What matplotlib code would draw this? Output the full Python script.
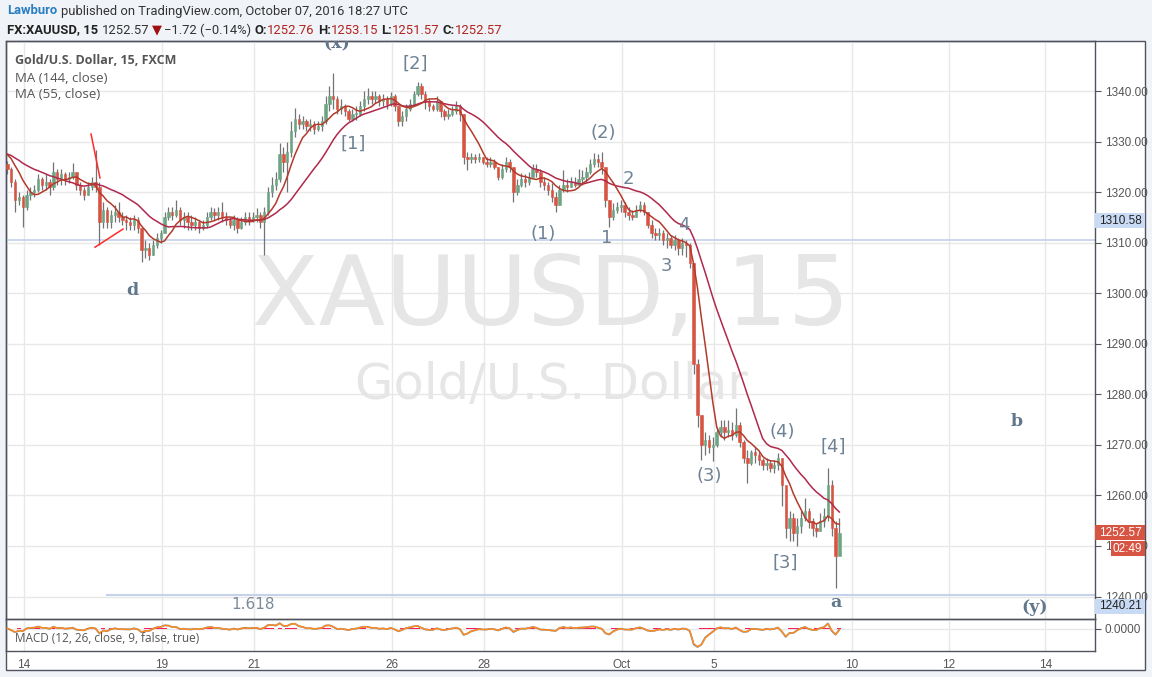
import matplotlib
matplotlib.use("Agg")
import matplotlib.pyplot as plt
import matplotlib.transforms as mtrans
from matplotlib.patches import Rectangle
import numpy as np
import pandas as pd

W, H, DPI = 1152, 677, 100

# ---------------- data (2-hour bars) ----------------
first_open = 1325.5
bar_close = [
    1324.5, 1322.0, 1318.5, 1319.0, 1317.0, 1319.5, 1320.0, 1320.5, 1322.5, 1321.5,
    1322.0, 1321.0, 1324.0, 1322.5, 1323.5, 1322.5, 1323.0, 1324.0, 1321.5, 1320.5,
    1319.5, 1321.0, 1322.0, 1321.0, 1314.0, 1316.5, 1314.0, 1315.5, 1316.0, 1315.0,
    1314.5, 1314.0, 1313.5, 1314.5, 1313.0, 1308.5, 1309.0, 1307.5, 1309.5, 1311.0,
    1312.0, 1315.0, 1316.0, 1315.5, 1316.5, 1314.5, 1315.0, 1314.0, 1313.5, 1314.0,
    1313.0, 1313.5, 1315.0, 1316.0, 1315.5, 1316.0, 1315.0, 1314.5, 1313.5, 1314.5,
    1313.0, 1314.0, 1315.0, 1314.5, 1315.0, 1315.5, 1314.0, 1316.0, 1320.0, 1321.5,
    1322.5, 1327.5, 1326.0, 1328.0, 1332.0, 1334.5, 1333.5, 1334.0, 1333.0, 1333.5,
    1332.5, 1333.0, 1334.0, 1337.5, 1339.0, 1338.5, 1336.5, 1337.0, 1336.0, 1334.5,
    1335.5, 1335.5, 1337.0, 1338.5, 1339.0, 1338.5, 1339.0, 1338.0, 1338.5, 1337.5,
    1339.0, 1337.0, 1334.0, 1335.0, 1336.5, 1337.5, 1339.5, 1341.0, 1339.5, 1338.0,
    1337.0, 1336.5, 1338.0, 1336.0, 1335.0, 1335.5, 1336.0, 1337.0, 1335.5, 1327.0,
    1326.5, 1327.0, 1326.5, 1327.0, 1326.0, 1325.5, 1326.0, 1325.0, 1323.0, 1324.5,
    1326.0, 1325.0, 1320.0, 1321.5, 1322.5, 1322.0, 1323.0, 1324.5, 1324.0, 1322.0,
    1321.5, 1320.5, 1319.0, 1317.5, 1320.5, 1321.5, 1321.0, 1322.0, 1321.5, 1322.5,
    1323.0, 1324.0, 1325.5, 1326.5, 1326.0, 1325.0, 1318.5, 1315.0, 1316.5, 1317.0,
    1317.5, 1316.0, 1315.5, 1315.0, 1316.5, 1317.5, 1316.0, 1313.5, 1312.0, 1311.5,
    1312.0, 1310.5, 1311.0, 1309.5, 1310.5, 1309.0, 1310.0, 1309.5, 1306.0, 1286.0,
    1276.0, 1270.0, 1271.0, 1269.5, 1270.0, 1272.5, 1273.5, 1272.5, 1273.0, 1272.0,
    1274.0, 1270.5, 1267.5, 1266.5, 1268.5, 1268.0, 1267.0, 1266.0, 1266.5, 1265.5,
    1266.0, 1267.5, 1262.0, 1253.5, 1255.5, 1252.5, 1254.0, 1255.5, 1257.0, 1255.0,
    1253.5, 1253.0, 1255.0, 1256.0, 1262.0, 1253.5, 1248.0, 1252.57,
]
bar_high = [
    1326.2, 1325.0, 1322.5, 1320.0, 1319.5, 1320.5, 1321.0, 1321.5, 1323.5, 1323.0,
    1323.5, 1322.5, 1326.0, 1324.5, 1324.5, 1324.0, 1324.0, 1325.8, 1324.0, 1322.0,
    1321.0, 1322.0, 1323.0, 1328.3, 1322.0, 1318.0, 1317.0, 1316.5, 1317.5, 1318.0,
    1316.0, 1315.5, 1315.0, 1315.5, 1315.0, 1313.0, 1310.5, 1310.0, 1310.5, 1312.0,
    1312.5, 1316.0, 1317.0, 1317.0, 1318.4, 1317.0, 1316.0, 1316.0, 1315.5, 1315.0,
    1314.5, 1314.5, 1316.0, 1317.0, 1316.8, 1317.0, 1318.0, 1316.0, 1315.0, 1315.5,
    1315.0, 1315.0, 1316.0, 1316.0, 1316.0, 1316.9, 1316.0, 1317.0, 1321.0, 1323.0,
    1324.0, 1329.7, 1329.0, 1330.0, 1334.0, 1336.6, 1335.5, 1335.0, 1334.5, 1334.5,
    1334.0, 1334.0, 1335.0, 1339.0, 1341.0, 1343.5, 1339.0, 1338.5, 1337.5, 1336.5,
    1336.5, 1337.0, 1338.0, 1340.0, 1340.6, 1340.0, 1340.0, 1339.5, 1339.5, 1339.0,
    1339.8, 1339.5, 1337.0, 1336.0, 1337.5, 1338.5, 1340.0, 1341.8, 1341.5, 1340.0,
    1338.5, 1337.5, 1339.0, 1338.0, 1336.5, 1336.5, 1337.0, 1338.0, 1337.5, 1335.5,
    1328.0, 1327.8, 1327.5, 1327.8, 1327.0, 1327.0, 1327.0, 1326.5, 1325.0, 1325.5,
    1327.0, 1326.5, 1325.0, 1322.5, 1323.7, 1323.5, 1324.0, 1325.5, 1325.5, 1324.5,
    1323.0, 1322.0, 1321.8, 1320.0, 1321.5, 1324.4, 1322.5, 1323.0, 1323.0, 1324.5,
    1324.4, 1325.0, 1326.5, 1327.7, 1327.5, 1328.0, 1325.0, 1318.5, 1317.8, 1318.0,
    1318.5, 1318.0, 1317.0, 1316.5, 1317.5, 1318.3, 1318.0, 1316.0, 1314.5, 1313.0,
    1313.0, 1312.5, 1312.0, 1311.5, 1311.5, 1311.0, 1311.0, 1310.5, 1310.0, 1306.0,
    1287.0, 1276.0, 1272.5, 1272.0, 1271.5, 1273.5, 1275.0, 1275.0, 1275.0, 1274.5,
    1277.3, 1274.5, 1271.0, 1269.0, 1269.0, 1269.5, 1268.5, 1267.5, 1267.5, 1267.0,
    1267.0, 1268.4, 1267.5, 1258.5, 1257.0, 1256.5, 1255.5, 1257.0, 1259.5, 1257.5,
    1255.5, 1254.5, 1256.5, 1257.5, 1265.4, 1263.0, 1255.0, 1255.5,
]
bar_low = [
    1323.5, 1321.0, 1316.0, 1317.5, 1313.2, 1316.5, 1318.5, 1319.0, 1320.0, 1320.5,
    1320.5, 1319.5, 1320.5, 1321.5, 1321.5, 1321.5, 1321.8, 1322.5, 1320.5, 1319.5,
    1318.4, 1319.5, 1320.5, 1320.0, 1309.5, 1313.0, 1313.0, 1313.0, 1314.0, 1314.0,
    1313.5, 1312.5, 1312.5, 1312.5, 1312.0, 1306.2, 1307.0, 1306.6, 1307.5, 1309.0,
    1310.0, 1312.0, 1314.5, 1314.5, 1315.0, 1313.5, 1313.0, 1312.5, 1312.5, 1312.5,
    1312.0, 1312.5, 1313.0, 1314.5, 1314.5, 1314.5, 1314.0, 1313.5, 1313.0, 1312.5,
    1312.0, 1312.8, 1313.5, 1313.5, 1314.0, 1314.0, 1313.0, 1307.6, 1315.5, 1319.0,
    1320.5, 1322.0, 1324.0, 1320.0, 1327.0, 1331.0, 1332.5, 1332.5, 1332.0, 1332.0,
    1331.5, 1332.0, 1332.0, 1333.5, 1336.0, 1336.5, 1335.5, 1335.5, 1335.0, 1334.0,
    1334.0, 1334.3, 1335.0, 1336.0, 1337.5, 1337.5, 1337.6, 1337.0, 1337.0, 1336.5,
    1337.0, 1336.0, 1333.0, 1333.0, 1334.0, 1336.0, 1337.0, 1339.0, 1338.5, 1336.5,
    1336.0, 1336.0, 1336.0, 1334.8, 1334.3, 1334.5, 1335.0, 1335.5, 1334.0, 1325.5,
    1324.4, 1325.8, 1325.8, 1326.0, 1325.5, 1325.0, 1325.0, 1324.5, 1322.4, 1322.5,
    1324.0, 1324.0, 1318.0, 1319.5, 1321.0, 1321.0, 1321.5, 1323.0, 1323.0, 1321.0,
    1320.4, 1319.5, 1318.0, 1316.1, 1317.5, 1320.0, 1320.0, 1321.0, 1321.0, 1321.5,
    1321.5, 1322.0, 1323.5, 1325.0, 1325.0, 1323.5, 1317.0, 1313.2, 1314.5, 1315.8,
    1316.0, 1315.0, 1314.5, 1314.5, 1315.0, 1316.0, 1315.5, 1313.0, 1311.0, 1310.5,
    1310.5, 1309.5, 1309.0, 1309.0, 1308.5, 1307.5, 1307.5, 1307.2, 1305.0, 1284.0,
    1273.5, 1267.0, 1268.0, 1268.3, 1266.8, 1269.5, 1271.5, 1271.0, 1271.5, 1271.0,
    1271.5, 1269.5, 1266.4, 1262.5, 1266.0, 1266.5, 1266.0, 1265.0, 1265.0, 1264.6,
    1264.5, 1265.0, 1258.0, 1251.5, 1251.0, 1251.0, 1250.0, 1252.5, 1255.0, 1253.5,
    1252.0, 1251.8, 1253.0, 1253.8, 1255.0, 1252.0, 1241.7, 1249.9,
]
first_bar_day = -0.36          # session-day units, 0 = Sep 14
bars_per_day = 12              # 2-hour bars
ma_slow_len = 19               # MA(144) of 15-min bars in 2-hour bars
ma_fast_len = 7                # MA(55) of 15-min bars in 2-hour bars
ma_slow_start = 1327.7         # MA values read at the left edge of the chart
ma_fast_start = 1327.9
macd_spans = (12 / 8, 26 / 8, 9 / 8)

date_tick_days = [0, 3, 5, 8, 10, 13, 15, 18, 20.1, 22.2]
date_tick_labels = ["14", "19", "21", "26", "28", "Oct", "5", "10", "12", "14"]
price_ticks = [1240, 1250, 1260, 1270, 1280, 1290, 1300, 1310, 1320, 1330, 1340]

level_line = 1310.58
fib_level = 1240.21
fib_start_day = 1.78
last_price = 1252.57

# annotation drawings (day, price)
trend_lines = [((1.457, 1331.5), (1.652, 1322.8)),
               ((1.543, 1309.1), (2.152, 1312.7))]
wave_labels = [
    ("(x)", 6.80, 1349.3, True), ("[2]", 8.50, 1345.5, False), ("[1]", 7.15, 1329.5, False),
    ("(2)", 12.59, 1331.7, False), ("2", 13.13, 1322.6, False), ("(1)", 11.28, 1311.7, False),
    ("1", 12.67, 1310.9, False), ("4", 14.35, 1313.5, False), ("3", 13.96, 1305.4, False),
    ("(4)", 16.48, 1272.5, False), ("[4]", 17.59, 1269.6, False), ("(3)", 14.89, 1263.8, False),
    ("[3]", 16.54, 1246.6, False), ("a", 17.65, 1238.9, True), ("b", 21.57, 1274.7, True),
    ("(y)", 21.96, 1237.9, True), ("d", 2.35, 1300.6, True),
]

# ---------------- figure ----------------
BG = "#f0f3f7"
FRAME = "#50535e"
GRID = "#e8e8e8"
AXTXT = "#555555"
fig = plt.figure(figsize=(W / DPI, H / DPI), dpi=DPI, facecolor=BG)

def fx(px):
    return px / W

def fy(py):
    return 1 - py / H

# white widget area
fig.add_artist(Rectangle((fx(6), fy(670)), (1145 - 6) / W, (670 - 41) / H,
                         transform=fig.transFigure, facecolor="white",
                         edgecolor=FRAME, lw=1.0, zorder=0))

ax = fig.add_axes([fx(6), fy(619), 1089 / W, 578 / H])
ax2 = fig.add_axes([fx(6), fy(651), 1089 / W, 32 / H], sharex=ax)

xmin, xmax = -0.391, 23.28
ymin, ymax = 1235.55, 1349.9

n = len(bar_close)
days = first_bar_day + np.arange(n) / bars_per_day
c = np.array(bar_close)
o = np.concatenate([[first_open], c[:-1]])
hi = np.array(bar_high)
lo = np.array(bar_low)

for a in (ax, ax2):
    a.set_facecolor("none")
    a.set_axisbelow(True)
    for s in a.spines.values():
        s.set_color(FRAME)
        s.set_linewidth(1.0)
    a.grid(True, color=GRID, lw=1.0)
    a.set_xlim(xmin, xmax)

# watermark
ax.text(0.5005, 0.555, "XAUUSD, 15", transform=ax.transAxes, ha="center", va="center",
        fontsize=70, color="#e6e6e6", family="DejaVu Sans", zorder=1)
ax.text(0.5005, 0.405, "Gold/U.S. Dollar", transform=ax.transAxes, ha="center", va="center",
        fontsize=35.7, color="#e6e6e6", family="DejaVu Sans", zorder=1)

# horizontal levels
ax.axhline(level_line, color="#c5d2ea", lw=1.2, zorder=1.5)
ax.hlines(fib_level, fib_start_day, xmax, color="#c5d2ea", lw=1.5, zorder=1.5)

# candles
up = c >= o
ax.vlines(days, lo, hi, color="#737375", lw=0.9, zorder=2)
body_lo = np.minimum(o, c)
body_h = np.maximum(np.abs(c - o), 0.15)
bw = 0.62 / bars_per_day
ax.bar(days[up], body_h[up], bottom=body_lo[up], width=bw,
       color="#6ba583", edgecolor="#6ba583", lw=0.4, zorder=3)
ax.bar(days[~up], body_h[~up], bottom=body_lo[~up], width=bw,
       color="#d75442", edgecolor="#d75442", lw=0.4, zorder=3)

# moving averages (seeded with the values read at the chart's left edge)
cs = pd.Series(c)

def sma(win, seed):
    s = pd.Series(np.concatenate([np.full(win, seed), c]))
    return s.rolling(win).mean().to_numpy()[win:]

ax.plot(days, sma(ma_slow_len, ma_slow_start), color="#b0284c", lw=1.1, zorder=4)
ax.plot(days, sma(ma_fast_len, ma_fast_start), color="#b33a2a", lw=1.1, zorder=4)

# trend lines
for (x0, y0), (x1, y1) in trend_lines:
    ax.plot([x0, x1], [y0, y1], color="#ff2a2a", lw=1.1, zorder=5)

# wave labels
for txt, d, p, bold in wave_labels:
    if bold:
        ax.text(d, p, txt, ha="center", va="center", fontsize=12.5, fontweight="bold",
                color="#62778c", family="DejaVu Serif", zorder=6, clip_on=True)
    else:
        ax.text(d, p, txt, ha="center", va="center", fontsize=13,
                color="#6f8294", family="DejaVu Sans", zorder=6, clip_on=True)
ax.text(4.98, 1238.5, "1.618", ha="center", va="center", fontsize=11,
        color="#7b8a99", family="DejaVu Sans", zorder=6)

# axes ticks
ax.set_ylim(ymin, ymax)
ax.set_yticks(price_ticks)
ax.yaxis.tick_right()
ax.yaxis.set_major_formatter(matplotlib.ticker.FormatStrFormatter("%.2f"))
ax.tick_params(axis="y", length=4, color=AXTXT, labelcolor=AXTXT, labelsize=8.5, pad=3,
               labelfontfamily="Liberation Sans")
ax.set_xticks(date_tick_days)
ax.tick_params(axis="x", length=0, labelbottom=False)

# MACD
f_span, s_span, g_span = macd_spans
macd = cs.ewm(span=f_span, adjust=False).mean() - cs.ewm(span=s_span, adjust=False).mean()
sig = macd.ewm(span=g_span, adjust=False).mean()
hist = macd - sig
ax2.bar(days, hist, width=1 / bars_per_day, color="#ff1e5a", zorder=2)
ax2.plot(days, macd, color="#3d9be9", lw=1.2, zorder=3)
ax2.plot(days, sig, color="#ff8a1f", lw=1.2, zorder=3)
bottom = float(macd.min()) * 22.5 / 18.5
ax2.set_ylim(bottom, -bottom * 9.5 / 22.5)
ax2.set_yticks([0])
ax2.yaxis.tick_right()
ax2.yaxis.set_major_formatter(matplotlib.ticker.FormatStrFormatter("%.4f"))
ax2.tick_params(axis="y", length=4, color=AXTXT, labelcolor=AXTXT, labelsize=8.5, pad=3,
                labelfontfamily="Liberation Sans")
ax2.set_xticks(date_tick_days)
ax2.set_xticklabels(date_tick_labels)
ax2.tick_params(axis="x", length=0, pad=6, labelcolor=AXTXT, labelsize=8.5,
                labelfontfamily="Liberation Sans")
ax2.text(0.008, 0.4, "MACD (12, 26, close, 9, false, true)", transform=ax2.transAxes,
         ha="left", va="center", fontsize=8.5, color=AXTXT, family="Open Sans", zorder=6)

# legend text
ax.text(9 / 1089, 1 - 19 / 578, "Gold/U.S. Dollar, 15, FXCM", transform=ax.transAxes,
        ha="left", va="center", fontsize=9, fontweight="bold", color="#555555",
        family="Open Sans", zorder=7)
ax.text(9 / 1089, 1 - 37 / 578, "MA (144, close)", transform=ax.transAxes,
        ha="left", va="center", fontsize=9.5, color="#555555", family="Open Sans", zorder=7)
ax.text(9 / 1089, 1 - 54 / 578, "MA (55, close)", transform=ax.transAxes,
        ha="left", va="center", fontsize=9.5, color="#555555", family="Open Sans", zorder=7)

# price tags on the right axis (display pixels)
fig.canvas.draw()
renderer = fig.canvas.get_renderer()
xr = ax.transAxes.transform((1, 0))[0]

def ypx(price):
    return ax.transData.transform((0, price))[1]

def tag(ycen, text, fc, tc, x0=None, w=50):
    x0 = xr if x0 is None else x0
    fig.add_artist(Rectangle((x0, ycen - 7.5), w, 15, transform=mtrans.IdentityTransform(),
                             facecolor=fc, edgecolor="none", zorder=20))
    fig.text((x0 + w - 3) / W, ycen / H, text, ha="right", va="center", fontsize=8.5,
             color=tc, family="Liberation Sans", zorder=21)

tag(ypx(level_line) + 19, "1310.58", "#c9daf5", "#222222")
tag(ypx(fib_level) - 11, "1240.21", "#c9daf5", "#222222")
tag(ypx(last_price), "1252.57", "#d75442", "white")
tag(ypx(last_price) - 16, "02:49", "#d75442", "white", x0=xr + 16, w=34)

# header
def row(pieces, x0, yc, size=9.35):
    x = x0
    for txt, color, weight, gap in pieces:
        t = fig.text(x / W, fy(yc), txt, color=color, fontweight=weight, fontsize=size,
                     family=["Roboto", "DejaVu Sans"], va="center", ha="left")
        bb = t.get_window_extent(renderer)
        x = bb.x1 + gap

DARK = "#333333"
RED = "#b3221f"
row([("Lawburo", "#2a7fc1", "bold", 4),
     ("published on TradingView.com, October 07, 2016 18:27 UTC", DARK, "normal", 0)], 7, 11)
row([("FX:XAUUSD, 15", "#222222", "bold", 4), ("1252.57", DARK, "normal", 2),
     ("\u25BC", "#a01010", "normal", 2), ("\u22121.72 (\u22120.14%)", DARK, "normal", 4),
     ("O:", "#222222", "bold", 0), ("1252.76", RED, "normal", 3),
     ("H:", "#222222", "bold", 0), ("1253.15", RED, "normal", 3),
     ("L:", "#222222", "bold", 0), ("1251.57", RED, "normal", 3),
     ("C:", "#222222", "bold", 0), ("1252.57", RED, "normal", 0)], 7, 30)

fig.savefig("out.png", dpi=DPI, facecolor=fig.get_facecolor())
